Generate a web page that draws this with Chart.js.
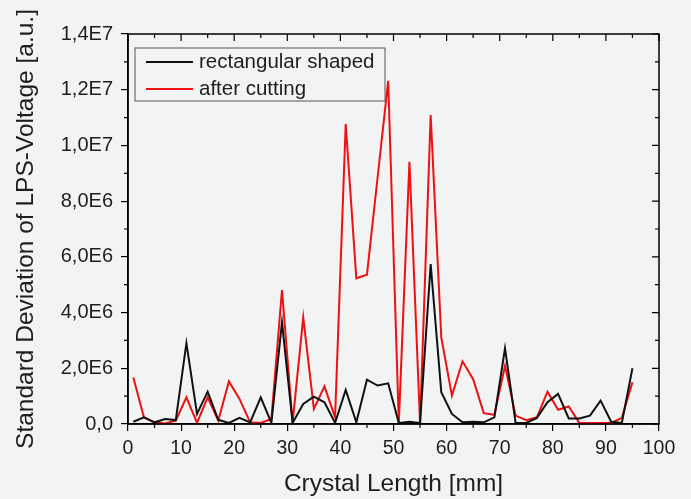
<!DOCTYPE html>
<html>
<head>
<meta charset="utf-8">
<script src="https://cdn.jsdelivr.net/npm/chart.js@4/dist/chart.umd.min.js"></script>
<style>
  html, body { margin: 0; padding: 0; background: #f2f3f3; }
  #wrap { width: 691px; height: 499px; }
</style>
</head>
<body>
<div id="wrap"><canvas id="stdDev" width="691" height="499"></canvas></div>
<script>
// crystal length positions [mm]
const crystalLength = [1, 3, 5, 7, 9, 11, 13, 15, 17, 19, 21, 23, 25, 27, 29, 31, 33, 35, 37, 39, 41, 43, 45, 47,
                       49, 51, 53, 55, 57, 59, 61, 63, 65, 67, 69, 71, 73, 75, 77, 79, 81, 83, 85, 87, 89, 91, 93, 95];

// standard deviation, in units of 1E6 a.u.
const rectangularShaped = [0.08, 0.24, 0.06, 0.18, 0.14, 2.9, 0.36, 1.16, 0.15, 0.04, 0.22, 0.06, 0.96, 0.04, 3.65, 0.04,
                           0.72, 0.98, 0.78, 0.04, 1.22, 0.06, 1.59, 1.38, 1.46, 0.04, 0.08, 0.04, 5.74, 1.14, 0.36, 0.06,
                           0.08, 0.06, 0.24, 2.72, 0.04, 0.04, 0.22, 0.78, 1.08, 0.2, 0.2, 0.3, 0.84, 0.08, 0.04, 2.0];
const afterCutting = [1.67, 0.24, 0.06, 0.02, 0.12, 0.96, 0.04, 0.96, 0.12, 1.53, 0.9, 0.06, 0.04, 0.18, 4.81, 0.04,
                      3.83, 0.54, 1.35, 0.24, 10.77, 5.23, 5.36, 8.84, 12.32, 0.04, 9.41, 0.04, 11.09, 3.11, 1.02, 2.25,
                      1.61, 0.39, 0.33, 2.09, 0.30, 0.14, 0.24, 1.16, 0.51, 0.63, 0.04, 0.04, 0.04, 0.04, 0.22, 1.5];

const yTickLabels = ['0,0', '2,0E6', '4,0E6', '6,0E6', '8,0E6', '1,0E7', '1,2E7', '1,4E7'];
const seriesNames = ['rectangular shaped', 'after cutting'];

const textColor = '#1e1e1e';
const fontFamily = '"Liberation Sans", Arial, sans-serif';

function toPoints(ys) {
    return crystalLength.map((x, i) => ({ x: x, y: ys[i] }));
}

// box around the plot with the inner/minor ticks, plus the legend
const frame = {
    id: 'frame',
    afterDraw(chart) {
        const ctx = chart.ctx;
        const { left, right, top, bottom } = chart.chartArea;
        const xs = chart.scales.x;
        const ys = chart.scales.y;
        ctx.save();
        ctx.strokeStyle = '#000';
        ctx.lineWidth = 1.5;
        ctx.strokeRect(left, top, right - left, bottom - top);
        ctx.lineWidth = 1.2;
        ctx.beginPath();
        for (let v = 0; v <= 100; v += 5) {
            const px = xs.getPixelForValue(v);
            const major = v % 10 === 0;
            ctx.moveTo(px, top);
            ctx.lineTo(px, top + (major ? 7 : 4));
            if (!major) {
                ctx.moveTo(px, bottom);
                ctx.lineTo(px, bottom + 4);
            }
        }
        for (let v = 0; v <= 14; v += 1) {
            const py = ys.getPixelForValue(v);
            const major = v % 2 === 0;
            ctx.moveTo(right, py);
            ctx.lineTo(right - (major ? 7 : 4), py);
            if (!major) {
                ctx.moveTo(left, py);
                ctx.lineTo(left - 4, py);
            }
        }
        ctx.stroke();

        // legend box
        const bx = left + 7, by = top + 14, bw = 250, bh = 53;
        ctx.lineWidth = 1;
        ctx.strokeStyle = '#555';
        ctx.strokeRect(bx, by, bw, bh);
        ctx.font = '20.5px ' + fontFamily;
        ctx.textBaseline = 'middle';
        ctx.fillStyle = textColor;
        chart.data.datasets.forEach((ds, i) => {
            const ry = by + 14 + i * 27;
            ctx.strokeStyle = ds.borderColor;
            ctx.lineWidth = 2;
            ctx.beginPath();
            ctx.moveTo(bx + 11, ry);
            ctx.lineTo(bx + 58, ry);
            ctx.stroke();
            ctx.fillText(ds.label, bx + 64, ry);
        });
        ctx.restore();
    }
};

let stdDev = document.getElementById('stdDev');
let stdDevChart = new Chart(stdDev, {
    type: 'line',
    data: {
        datasets: [{
            label: seriesNames[0],
            data: toPoints(rectangularShaped),
            borderColor: '#111111',
            backgroundColor: '#111111',
            borderWidth: 2,
            pointRadius: 0,
            tension: 0,
        }, {
            label: seriesNames[1],
            data: toPoints(afterCutting),
            borderColor: '#ee1111',
            backgroundColor: '#ee1111',
            borderWidth: 2,
            pointRadius: 0,
            tension: 0,
        }]
    },
    options: {
        responsive: false,
        animation: false,
        events: [],
        layout: { padding: { top: 34, right: 32, left: 0, bottom: 0 } },
        plugins: {
            legend: { display: false },
            tooltip: { enabled: false },
        },
        scales: {
            x: {
                type: 'linear',
                min: 0,
                max: 100,
                afterFit: (scale) => { scale.height = 75; },
                ticks: {
                    stepSize: 10,
                    color: textColor,
                    padding: 6,
                    maxRotation: 0,
                    font: { family: fontFamily, size: 19.5 },
                },
                grid: { drawOnChartArea: false, tickLength: 7, color: '#000', lineWidth: 1.2 },
                border: { color: '#000', width: 1.5 },
                title: {
                    display: true,
                    text: 'Crystal Length [mm]',
                    color: textColor,
                    font: { family: fontFamily, size: 24.5 },
                    padding: { top: 0, bottom: 0 },
                },
            },
            y: {
                min: 0,
                max: 14,
                afterFit: (scale) => { scale.width = 128; },
                ticks: {
                    stepSize: 2,
                    color: textColor,
                    padding: 8,
                    font: { family: fontFamily, size: 20 },
                    callback: (value) => yTickLabels[Math.round(value / 2)],
                },
                grid: { drawOnChartArea: false, tickLength: 7, color: '#000', lineWidth: 1.2 },
                border: { color: '#000', width: 1.5 },
                title: {
                    display: true,
                    text: 'Standard Deviation of LPS-Voltage [a.u.]',
                    color: textColor,
                    font: { family: fontFamily, size: 24.5 },
                    padding: { top: 12, bottom: 0 },
                },
            },
        },
    },
    plugins: [frame],
});
</script>
</body>
</html>
